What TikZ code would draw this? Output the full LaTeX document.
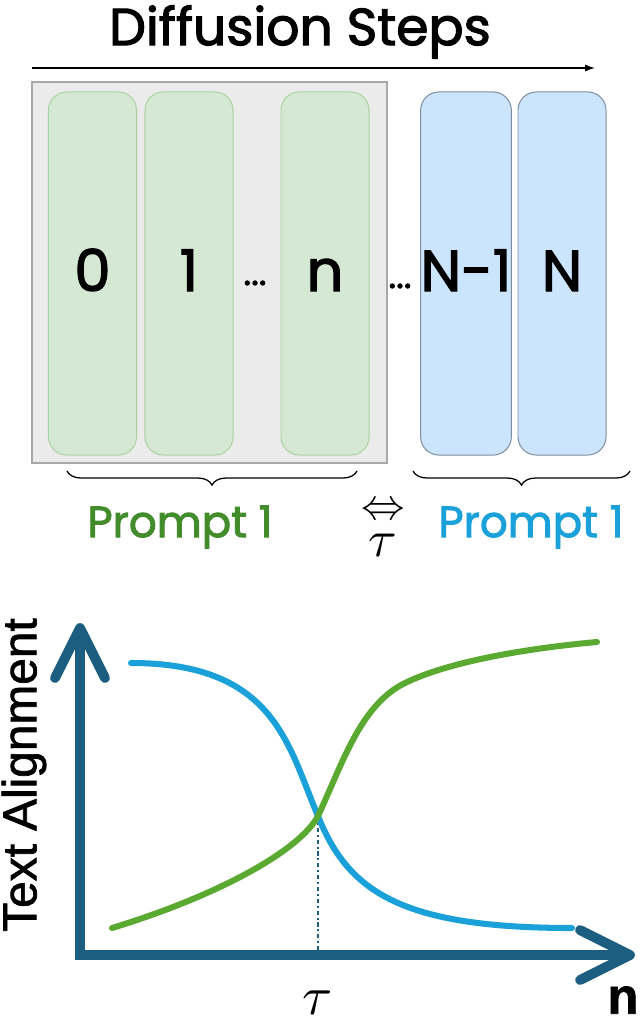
\documentclass[tikz,border=0pt]{standalone}
\usepackage{fontspec}
\setmainfont{Poppins}[RawFeature={embolden=2.2}]
\setsansfont{Liberation Sans}[RawFeature={embolden=1.5}]
\usetikzlibrary{arrows.meta,decorations.pathreplacing}
\definecolor{greenfill}{HTML}{D5E8D4}
\definecolor{greenline}{HTML}{A8D29C}
\definecolor{bluefill}{HTML}{CCE5FF}
\definecolor{blueline}{HTML}{7D8C9C}
\definecolor{groupfill}{HTML}{EBEBEB}
\definecolor{groupline}{HTML}{A8A8A8}
\definecolor{promptgreen}{HTML}{438C2B}
\definecolor{promptblue}{HTML}{1BA1D9}
\definecolor{curvegreen}{HTML}{5AAA32}
\definecolor{axisblue}{HTML}{1B5E7F}
\begin{document}
\begin{tikzpicture}[x=0.025cm,y=-0.025cm,
  greenstep/.style={draw=greenline, fill=greenfill, line width=0.7pt, rounded corners=13pt,
    minimum width=2.2cm, minimum height=9.075cm, inner sep=0pt, text height=2.5em,
    font=\fontsize{41}{43}\selectfont},
  bluestep/.style={greenstep, draw=blueline, fill=bluefill},
  dots/.style={font=\fontsize{26}{28}\selectfont},
  prompt/.style={font=\fontsize{31}{33}\selectfont},
  curve/.style={line width=4.3pt, line cap=round},
  axis/.style={draw=axisblue, line width=7pt, line cap=round, line join=round}]
\useasboundingbox (0,0) rectangle (639,1025);

% top part
\node[font=\fontsize{37}{40}\selectfont] (title) at (300,32) {Diffusion Steps};
\coordinate (tstart) at (32,68);
\coordinate (tend) at (595,68);
\draw[-{Latex[length=7pt,width=5pt]}, line width=0.9pt] (tstart) -- (tend);

\node[draw=groupline, fill=groupfill, line width=2pt, minimum width=8.875cm,
  minimum height=9.525cm, inner sep=0pt] (grp) at (209.5,272.5) {};
\node[greenstep] (s0) at (92.5,273.5) {0};
\node[greenstep] (s1) at (189,273.5) {1};
\node[greenstep] (sn) at (325,273.5) {n};
\node[dots] (d1) at (255,283) {...};
\node[dots] (d2) at (400,286) {...};
\node[bluestep] (sN1) at (466,273.5) {N-1};
\node[bluestep] (sN) at (562,273.5) {N};

\draw[decorate, decoration={brace, mirror, amplitude=10pt}, line width=0.9pt]
  (67,471) -- (357,471);
\draw[decorate, decoration={brace, mirror, amplitude=10pt}, line width=0.9pt]
  (413,471) -- (630,471);
\node[prompt, text=promptgreen] (p1) at (180,527) {Prompt 1};
\node[prompt, text=promptblue] (p2) at (531,527) {Prompt 1};
\node (sw) at (383,511) {\scalebox{3.1}{$\Leftrightarrow$}};
\node (tau) at (383,545) {\scalebox{3.7}{$\tau$}};

% bottom part
\coordinate (ytip) at (80,628);
\coordinate (o) at (80,955);
\coordinate (xtip) at (630,955);
\draw[axis, line join=miter, line cap=butt] (ytip) -- (o) -- (xtip);
\draw[axis] (55,678) -- (ytip) -- (105,678);
\draw[axis] (580,930) -- (xtip) -- (580,980);
\coordinate (cross) at (318,816);
\draw[axisblue, line width=1.4pt, dash dot] (cross) -- (318,955);
\draw[curve, promptblue] (131,663) .. controls (275,663) and (288,746) .. (cross)
  .. controls (348,891) and (400,928) .. (572,928);
\draw[curve, curvegreen] (112,928) .. controls (220,895) and (300,850) .. (cross)
  .. controls (342,765) and (360,705) .. (405,683)
  .. controls (450,661) and (530,648) .. (597,642);
\node[rotate=90, font=\sffamily\fontsize{34}{36}\selectfont] (ylab) at (24,775) {Text Alignment};
\node (tx) at (318,1003) {\scalebox{3.9}{$\tau$}};
\node[font=\sffamily\bfseries\fontsize{36}{38}\selectfont] (xlab) at (623,1000) {n};
\end{tikzpicture}
\end{document}
